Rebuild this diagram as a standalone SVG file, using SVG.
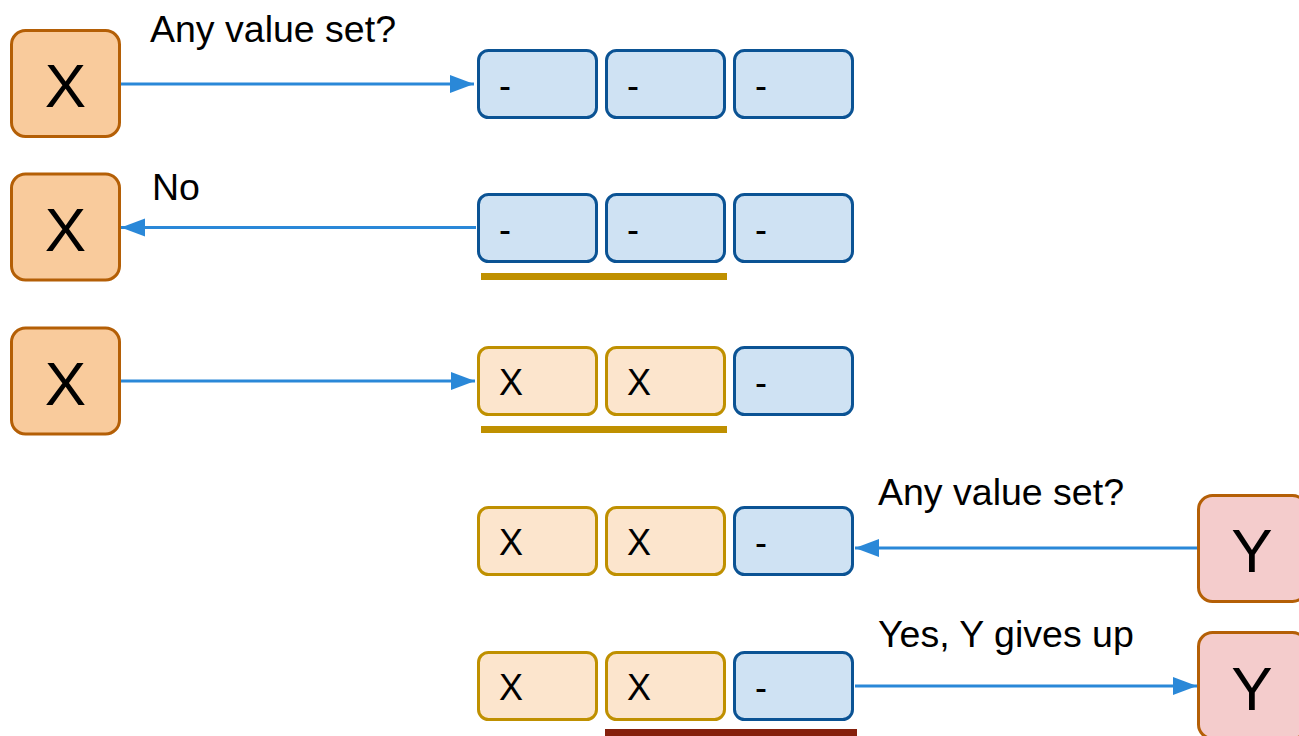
<svg xmlns="http://www.w3.org/2000/svg" width="1299" height="736" viewBox="0 0 1299 736">
<style>
text{font-family:"Liberation Sans",Arial,sans-serif;fill:#000}
.lbl{font-size:37.5px}
.ct{font-size:36px}
.big{font-size:62px;text-anchor:middle}
.blue{fill:#cfe2f3;stroke:#0b5394;stroke-width:3}
.gold{fill:#fce5cd;stroke:#bf9000;stroke-width:3}
.xb{fill:#f9cb9c;stroke:#b45f06;stroke-width:3}
.yb{fill:#f4cccc;stroke:#b45f06;stroke-width:3}
.arr{stroke:#2a88d8;stroke-width:3;fill:none;marker-end:url(#ah)}
</style>
<defs>
<marker id="ah" markerUnits="userSpaceOnUse" markerWidth="26" markerHeight="20" refX="24" refY="9" orient="auto">
<path d="M0,0 L24,9 L0,18 Z" fill="#2a88d8"/>
</marker>
</defs>
<rect width="1299" height="736" fill="#fff"/>

<g id="connectors">
<line class="arr" x1="121" y1="84" x2="474" y2="84"/>
<line class="arr" x1="476" y1="227.5" x2="121" y2="227.5"/>
<line class="arr" x1="121" y1="381" x2="475" y2="381"/>
<line class="arr" x1="1197" y1="548" x2="855" y2="548"/>
<line class="arr" x1="855" y1="686" x2="1197" y2="686"/>
</g>

<g id="labels">
<text class="lbl" x="150" y="42">Any value set?</text>
<text class="lbl" x="152" y="200">No</text>
<text class="lbl" x="878" y="505">Any value set?</text>
<text class="lbl" x="878" y="647">Yes, Y gives up</text>
</g>

<g id="x1"><rect class="xb" x="11.5" y="30.5" width="108" height="106" rx="14"/><text class="big" x="65.5" y="107">X</text></g>
<g id="x2"><rect class="xb" x="11.5" y="174" width="108" height="106" rx="14"/><text class="big" x="65.5" y="250.5">X</text></g>
<g id="x3"><rect class="xb" x="11.5" y="328" width="108" height="106" rx="14"/><text class="big" x="65.5" y="404.5">X</text></g>
<g id="y1"><rect class="yb" x="1198.5" y="495.5" width="108" height="106" rx="14"/><text class="big" x="1252" y="572">Y</text></g>
<g id="y2"><rect class="yb" x="1198.5" y="632.5" width="108" height="106" rx="14"/><text class="big" x="1252" y="710">Y</text></g>

<g id="row1">
<rect class="blue" x="478.5" y="50.5" width="118" height="67" rx="10"/><text class="ct" x="499" y="98">-</text>
<rect class="blue" x="606.5" y="50.5" width="118" height="67" rx="10"/><text class="ct" x="627" y="98">-</text>
<rect class="blue" x="734.5" y="50.5" width="118" height="67" rx="10"/><text class="ct" x="755" y="98">-</text>
</g>
<g id="row2">
<rect class="blue" x="478.5" y="194.5" width="118" height="67" rx="10"/><text class="ct" x="499" y="242">-</text>
<rect class="blue" x="606.5" y="194.5" width="118" height="67" rx="10"/><text class="ct" x="627" y="242">-</text>
<rect class="blue" x="734.5" y="194.5" width="118" height="67" rx="10"/><text class="ct" x="755" y="242">-</text>
<rect x="481" y="273" width="246" height="7" fill="#bf9000"/>
</g>
<g id="row3">
<rect class="gold" x="478.5" y="347.5" width="118" height="67" rx="10"/><text class="ct" x="499" y="395">X</text>
<rect class="gold" x="606.5" y="347.5" width="118" height="67" rx="10"/><text class="ct" x="627" y="395">X</text>
<rect class="blue" x="734.5" y="347.5" width="118" height="67" rx="10"/><text class="ct" x="755" y="395">-</text>
<rect x="481" y="426" width="246" height="7" fill="#bf9000"/>
</g>
<g id="row4">
<rect class="gold" x="478.5" y="507.5" width="118" height="67" rx="10"/><text class="ct" x="499" y="555">X</text>
<rect class="gold" x="606.5" y="507.5" width="118" height="67" rx="10"/><text class="ct" x="627" y="555">X</text>
<rect class="blue" x="734.5" y="507.5" width="118" height="67" rx="10"/><text class="ct" x="755" y="555">-</text>
</g>
<g id="row5">
<rect class="gold" x="478.5" y="652.5" width="118" height="67" rx="10"/><text class="ct" x="499" y="700">X</text>
<rect class="gold" x="606.5" y="652.5" width="118" height="67" rx="10"/><text class="ct" x="627" y="700">X</text>
<rect class="blue" x="734.5" y="652.5" width="118" height="67" rx="10"/><text class="ct" x="755" y="700">-</text>
<rect x="605" y="729" width="252" height="7" fill="#85200c"/>
</g>
</svg>
